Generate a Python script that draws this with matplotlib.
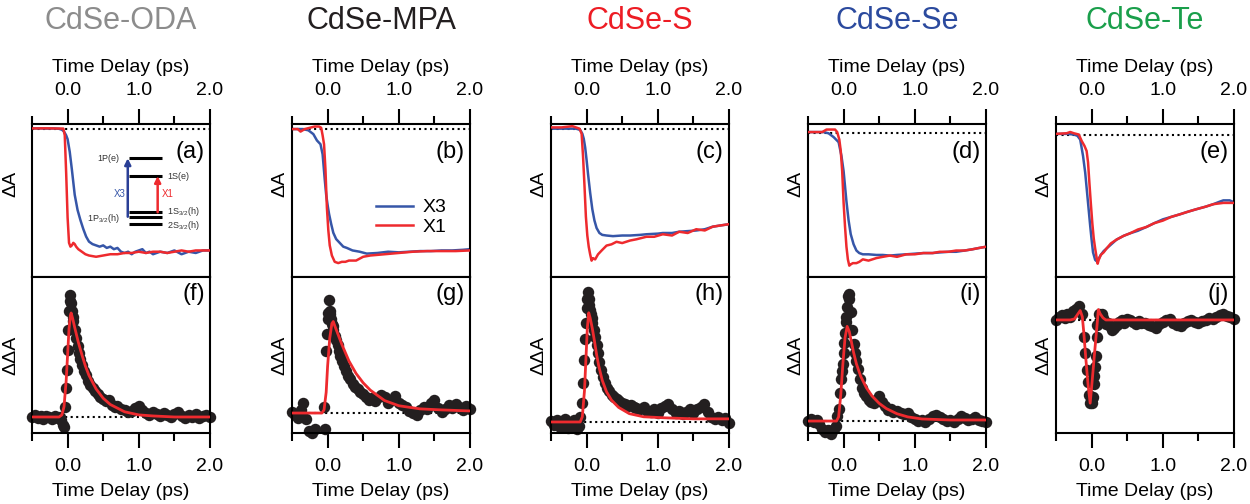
import numpy as np
import matplotlib.pyplot as plt

plt.rcParams['font.family'] = ['Liberation Sans', 'DejaVu Sans']
plt.rcParams['mathtext.fontset'] = 'custom'
plt.rcParams['mathtext.rm'] = 'Liberation Sans'
plt.rcParams['mathtext.default'] = 'rm'

BLUE = '#3656a8'
RED = '#ee2a2e'
DOT = '#231f20'

titles = ['CdSe-ODA', 'CdSe-MPA', 'CdSe-S', 'CdSe-Se', 'CdSe-Te']
title_colors = ['#8c8c8c', '#231f20', '#ed1c24', '#2b4a9e', '#1a9f4b']
top_letters = ['(a)', '(b)', '(c)', '(d)', '(e)']
bot_letters = ['(f)', '(g)', '(h)', '(i)', '(j)']

# --- top row: normalised bleach kinetics, X3 (blue) and X1 (red) ---
a_x3_t = [-0.5, -0.4, -0.3, -0.2, -0.12, -0.08, -0.05, -0.02, 0.0, 0.03, 0.06, 0.1,
          0.14, 0.18, 0.22, 0.26, 0.3, 0.35, 0.4, 0.45, 0.5, 0.55, 0.6, 0.65, 0.7,
          0.75, 0.8, 0.85, 0.9, 0.95, 1.0, 1.05, 1.1, 1.15, 1.2, 1.3, 1.4, 1.5, 1.6,
          1.7, 1.8, 1.9, 2.0]
a_x3 = [0.005, 0.006, 0.004, 0.005, 0.002, -0.005, -0.02, -0.05, -0.08, -0.18, -0.32,
        -0.52, -0.64, -0.72, -0.79, -0.85, -0.89, -0.91, -0.92, -0.93, -0.92, -0.94,
        -0.93, -0.95, -0.94, -0.97, -0.98, -0.97, -0.99, -0.97, -0.96, -0.95, -0.98,
        -0.97, -0.99, -0.97, -0.98, -0.96, -0.99, -0.97, -0.98, -0.96, -0.96]
a_x1_t = [-0.5, -0.3, -0.1, -0.06, -0.04, -0.02, 0.0, 0.02, 0.04, 0.06, 0.08, 0.1, 0.12,
          0.15, 0.2, 0.25, 0.3, 0.4, 0.5, 0.6, 0.7, 0.8, 0.9, 1.0, 1.1, 1.2, 1.3, 1.4,
          1.5, 1.6, 1.7, 1.8, 1.9, 2.0]
a_x1 = [0.005, 0.006, 0.004, 0.004, -0.05, -0.35, -0.7, -0.9, -0.93, -0.92, -0.90,
        -0.91, -0.93, -0.95, -0.97, -0.99, -1.0, -1.01, -1.0, -0.99, -0.99, -0.98,
        -0.98, -0.97, -0.98, -0.97, -0.97, -0.98, -0.97, -0.96, -0.97, -0.96, -0.96,
        -0.96]

b_x3_t = [-0.5, -0.35, -0.27, -0.2, -0.15, -0.1, -0.07, -0.04, -0.02, 0.0, 0.02, 0.05,
          0.08, 0.12, 0.17, 0.22, 0.27, 0.35, 0.45, 0.55, 0.7, 0.85, 1.0, 1.15, 1.3,
          1.45, 1.6, 1.75, 1.9, 2.0]
b_x3 = [0.0, 0.0, -0.01, -0.04, -0.09, -0.12, -0.2, -0.4, -0.52, -0.6, -0.67, -0.75,
        -0.82, -0.87, -0.90, -0.93, -0.94, -0.96, -0.97, -0.985, -0.98, -0.97, -0.975,
        -0.97, -0.965, -0.965, -0.96, -0.96, -0.955, -0.95]
b_x1_t = [-0.5, -0.42, -0.38, -0.32, -0.25, -0.18, -0.12, -0.09, -0.07, -0.05, -0.03,
          -0.01, 0.01, 0.03, 0.06, 0.1, 0.15, 0.2, 0.25, 0.3, 0.4, 0.5, 0.6, 0.8, 1.0,
          1.2, 1.4, 1.6, 1.8, 2.0]
b_x1 = [0.0, 0.0, -0.02, 0.0, 0.01, 0.02, 0.02, 0.01, -0.05, -0.12, -0.32, -0.62, -0.8,
        -0.92, -1.0, -1.05, -1.06, -1.05, -1.05, -1.04, -1.04, -1.01, -1.0, -0.99,
        -0.98, -0.97, -0.965, -0.965, -0.965, -0.96]

c_x3_t = [-0.5, -0.3, -0.15, -0.09, -0.06, -0.04, -0.02, 0.0, 0.02, 0.05, 0.08, 0.11,
          0.14, 0.18, 0.22, 0.28, 0.37, 0.5, 0.61, 0.75, 0.84, 1.0, 1.07, 1.2, 1.3,
          1.42, 1.54, 1.66, 1.77, 1.88, 2.0]
c_x3 = [0.0, 0.0, 0.0, -0.01, -0.04, -0.08, -0.15, -0.25, -0.36, -0.51, -0.64, -0.73,
        -0.79, -0.83, -0.845, -0.85, -0.855, -0.85, -0.85, -0.845, -0.84, -0.835,
        -0.83, -0.83, -0.82, -0.815, -0.81, -0.80, -0.78, -0.77, -0.76]
c_x1_t = [-0.5, -0.35, -0.2, -0.1, -0.07, -0.05, -0.03, -0.01, 0.01, 0.03, 0.05, 0.07,
          0.09, 0.12, 0.16, 0.21, 0.28, 0.35, 0.42, 0.5, 0.61, 0.7, 0.84, 0.95, 1.07,
          1.2, 1.3, 1.42, 1.54, 1.66, 1.77, 1.88, 2.0]
c_x1 = [0.01, 0.01, 0.02, 0.0, -0.04, -0.22, -0.45, -0.7, -0.85, -0.94, -1.0, -1.05,
        -1.03, -1.04, -1.0, -0.97, -0.93, -0.92, -0.9, -0.91, -0.89, -0.88, -0.86,
        -0.86, -0.84, -0.85, -0.82, -0.83, -0.80, -0.81, -0.78, -0.77, -0.76]

d_x3_t = [-0.5, -0.35, -0.28, -0.21, -0.14, -0.07, -0.03, 0.0, 0.02, 0.04, 0.07, 0.1,
          0.14, 0.18, 0.22, 0.27, 0.35, 0.46, 0.55, 0.65, 0.75, 0.88, 1.0, 1.12, 1.25,
          1.35, 1.47, 1.58, 1.7, 1.81, 1.9, 2.0]
d_x3 = [0.01, 0.01, 0.01, 0.0, -0.03, -0.07, -0.18, -0.3, -0.42, -0.54, -0.69, -0.8,
        -0.88, -0.93, -0.95, -0.96, -0.96, -0.965, -0.965, -0.97, -0.965, -0.96,
        -0.955, -0.95, -0.95, -0.945, -0.94, -0.94, -0.93, -0.92, -0.91, -0.9]
d_x1_t = [-0.5, -0.3, -0.24, -0.18, -0.12, -0.09, -0.06, -0.04, -0.02, 0.0, 0.02, 0.04,
          0.06, 0.08, 0.1, 0.13, 0.18, 0.22, 0.27, 0.35, 0.46, 0.55, 0.65, 0.75, 0.88,
          1.0, 1.12, 1.25, 1.35, 1.47, 1.58, 1.7, 1.81, 1.9, 2.0]
d_x1 = [0.01, 0.01, 0.03, 0.03, 0.03, 0.01, -0.05, -0.14, -0.3, -0.55, -0.74, -0.9,
        -1.0, -1.05, -1.04, -1.03, -1.03, -1.02, -1.0, -1.01, -0.99, -0.98, -0.97,
        -0.98, -0.96, -0.96, -0.95, -0.95, -0.94, -0.94, -0.93, -0.93, -0.92, -0.91,
        -0.9]

e_x3_t = [-0.5, -0.35, -0.25, -0.2, -0.16, -0.12, -0.09, -0.07, -0.04, -0.02, 0.0, 0.02,
          0.05, 0.07, 0.1, 0.13, 0.17, 0.21, 0.27, 0.35, 0.45, 0.54, 0.65, 0.77, 0.88,
          1.0, 1.12, 1.24, 1.35, 1.47, 1.6, 1.71, 1.8, 1.85, 1.94, 2.0]
e_x3 = [0.005, 0.005, 0.0, -0.01, -0.04, -0.17, -0.3, -0.42, -0.6, -0.72, -0.83, -0.93,
        -0.99, -1.0, -0.98, -0.95, -0.92, -0.9, -0.87, -0.83, -0.8, -0.78, -0.76,
        -0.73, -0.7, -0.67, -0.65, -0.63, -0.61, -0.59, -0.57, -0.55, -0.53, -0.52,
        -0.52, -0.535]
e_x1_t = [-0.5, -0.35, -0.3, -0.25, -0.18, -0.14, -0.1, -0.07, -0.05, -0.03, -0.01, 0.01,
          0.03, 0.05, 0.07, 0.085, 0.1, 0.13, 0.17, 0.21, 0.27, 0.35, 0.45, 0.54, 0.65,
          0.77, 0.88, 1.0, 1.12, 1.24, 1.35, 1.47, 1.6, 1.71, 1.85, 2.0]
e_x1 = [0.005, 0.01, 0.02, 0.01, 0.0, -0.05, -0.09, -0.13, -0.22, -0.39, -0.55, -0.7,
        -0.82, -0.9, -0.97, -1.02, -0.99, -0.95, -0.93, -0.9, -0.86, -0.83, -0.8, -0.78,
        -0.75, -0.73, -0.7, -0.68, -0.65, -0.63, -0.61, -0.59, -0.57, -0.55, -0.54,
        -0.54]

# --- bottom row: delta-delta-A points on a shared delay grid, plus fits ---
dd_t = [-0.50, -0.46, -0.42, -0.38, -0.34, -0.30, -0.26, -0.22, -0.18, -0.14,
        -0.11, -0.09, -0.07, -0.05, -0.03,
        -0.02, -0.01, 0.00, 0.01, 0.02, 0.03, 0.04, 0.05, 0.06, 0.07, 0.08,
        0.10, 0.12, 0.14, 0.16, 0.18, 0.20,
        0.23, 0.26, 0.29, 0.32, 0.35, 0.38,
        0.42, 0.46, 0.50, 0.54, 0.58, 0.62, 0.66, 0.70,
        0.75, 0.80, 0.85, 0.90, 0.95, 1.00, 1.05, 1.10, 1.15, 1.20, 1.25, 1.30, 1.35,
        1.40, 1.45, 1.50, 1.55, 1.60, 1.65, 1.70, 1.75, 1.80, 1.85, 1.90, 1.95, 2.00]

f_pts = [0.00, 0.02, -0.01, 0.01, -0.02, 0.01, 0.00, -0.02, 0.01, -0.01,
         0.00, -0.03, -0.08, -0.10, 0.10,
         0.28, 0.45, 0.64, 0.84, 1.02, 1.12, 1.17, 1.10, 1.02, 0.96, 0.92,
         0.84, 0.76, 0.68, 0.62, 0.56, 0.50,
         0.44, 0.40, 0.35, 0.31, 0.28, 0.25,
         0.22, 0.19, 0.17, 0.15, 0.16, 0.12, 0.10, 0.11,
         0.08, 0.07, 0.05, 0.06, 0.09, 0.11, 0.07, 0.04, 0.02, 0.05, 0.03, 0.01, 0.04,
         0.02, 0.00, 0.03, 0.05, 0.01, -0.01, 0.02, 0.00, 0.03, -0.01, 0.01, 0.02, 0.00]
g_pts = [0.01, -0.02, -0.05, 0.03, 0.10, -0.06, -0.17, -0.19, -0.15, np.nan,
         np.nan, np.nan, np.nan, 0.06, -0.15,
         0.60, 0.76, 0.90, 0.96, 1.09, 0.98, 0.95, 0.90, 0.86, 0.84, 0.80,
         0.74, 0.70, 0.65, 0.60, 0.55, 0.50,
         0.45, 0.40, 0.36, 0.33, 0.28, 0.25,
         0.23, 0.20, 0.18, 0.15, 0.13, 0.14, 0.12, 0.14,
         0.17, 0.15, 0.10, 0.13, 0.16, 0.10, 0.08, 0.06, 0.02, 0.00, -0.02, 0.03, 0.06,
         0.04, 0.10, 0.13, 0.05, 0.01, 0.04, 0.08, 0.05, 0.09, 0.06, 0.03, 0.07, 0.04]
h_pts = [0.01, -0.03, 0.02, -0.05, 0.00, 0.03, -0.06, -0.02, 0.02, -0.07,
         -0.04, 0.05, 0.18, 0.37, 0.60,
         0.80, 0.95, 1.10, 1.18, 1.25, 1.18, 1.12, 1.08, 1.04, 1.00, 0.95,
         0.88, 0.82, 0.74, 0.66, 0.58, 0.50,
         0.43, 0.37, 0.33, 0.30, 0.26, 0.24,
         0.22, 0.20, 0.18, 0.17, 0.15, 0.16, 0.14, 0.13,
         0.12, 0.14, 0.11, 0.10, 0.12, 0.09, 0.13, 0.15, 0.17, 0.12, 0.09, 0.11, 0.08,
         0.10, 0.12, 0.09, 0.12, 0.14, 0.17, 0.10, 0.05, 0.03, 0.05, 0.02, 0.04, -0.01]
i_pts = [0.00, 0.02, -0.01, 0.01, -0.03, -0.08, -0.11, -0.09, -0.12, -0.08,
         -0.05, 0.05, 0.12, 0.27, 0.40,
         0.48, 0.55, 0.65, 0.75, 0.85, 0.95, 1.00, 1.10, 1.20, 1.22, 1.17,
         1.05, 0.88, 0.74, 0.65, 0.58, 0.50,
         0.40, 0.32, 0.27, 0.24, 0.20, 0.18,
         0.17, 0.20, 0.24, 0.18, 0.14, 0.11, 0.12, 0.09,
         0.10, 0.08, 0.07, 0.08, 0.04, 0.02, 0.00, 0.01, -0.01, 0.02, 0.05, 0.06, 0.04,
         0.02, 0.00, 0.01, -0.01, 0.02, 0.05, 0.03, 0.01, 0.02, 0.04, 0.01, 0.00, -0.01]
j_pts = [0.00, 0.03, 0.05, 0.02, 0.06, 0.03, 0.09, 0.11, 0.13, 0.06,
         -0.16, -0.32, -0.48, -0.60, -0.72,
         -0.80, -0.78, -0.80, -0.76, -0.74, -0.62, -0.54, -0.45, -0.35, -0.16, -0.05,
         0.06, 0.05, 0.06, 0.02, -0.02, -0.04,
         -0.03, -0.06, -0.10, -0.08, -0.05, -0.02,
         0.00, -0.03, 0.01, 0.00, -0.02, -0.04, -0.01, -0.03,
         -0.03, -0.05, -0.06, -0.08, -0.04, -0.02, 0.00, 0.01, -0.03, -0.05, -0.06, -0.03,
         -0.01, 0.00, -0.02, -0.03, -0.01, 0.00, 0.02, 0.01, 0.03, 0.05, 0.06, 0.04,
         0.03, 0.01]

f_fit_t = [-0.5, -0.12, -0.08, -0.05, -0.02, 0.0, 0.02, 0.04, 0.05, 0.07, 0.1, 0.15,
           0.2, 0.25, 0.3, 0.4, 0.5, 0.6, 0.8, 1.0, 1.2, 1.5, 2.0]
f_fit = [0.0, 0.0, 0.02, 0.1, 0.35, 0.6, 0.85, 0.98, 1.0, 0.95, 0.86, 0.72, 0.6, 0.49,
         0.4, 0.27, 0.18, 0.12, 0.05, 0.02, 0.01, 0.0, 0.0]
g_fit_t = [-0.5, -0.08, -0.05, -0.02, 0.0, 0.03, 0.06, 0.08, 0.1, 0.15, 0.2, 0.3, 0.4,
           0.5, 0.6, 0.8, 1.0, 1.3, 1.6, 2.0]
g_fit = [0.0, 0.0, 0.03, 0.2, 0.45, 0.72, 0.86, 0.88, 0.84, 0.75, 0.66, 0.5, 0.38,
         0.29, 0.22, 0.12, 0.07, 0.04, 0.03, 0.02]
h_fit_t = [-0.5, -0.09, -0.06, -0.03, -0.01, 0.01, 0.03, 0.05, 0.08, 0.11, 0.14, 0.17,
           0.22, 0.28, 0.35, 0.45, 0.6, 0.8, 1.1, 1.5, 2.0]
h_fit = [0.0, 0.0, 0.05, 0.3, 0.6, 0.9, 1.05, 1.0, 0.9, 0.78, 0.65, 0.54, 0.40, 0.29,
         0.21, 0.14, 0.08, 0.05, 0.04, 0.03, 0.03]
i_fit_t = [-0.5, -0.1, -0.07, -0.04, -0.01, 0.02, 0.05, 0.08, 0.11, 0.14, 0.18, 0.24,
           0.32, 0.4, 0.5, 0.6, 0.75, 0.9, 1.1, 1.5, 2.0]
i_fit = [0.0, 0.0, 0.04, 0.25, 0.55, 0.8, 0.91, 0.86, 0.76, 0.66, 0.55, 0.43, 0.32,
         0.24, 0.17, 0.12, 0.07, 0.04, 0.02, 0.01, 0.01]
j_fit_t = [-0.5, -0.3, -0.24, -0.2, -0.16, -0.13, -0.11, -0.08, -0.05, -0.02, 0.01,
           0.04, 0.07, 0.095, 0.12, 0.16, 0.2, 0.3, 2.0]
j_fit = [0.0, 0.0, 0.01, 0.05, 0.09, 0.03, -0.12, -0.38, -0.62, -0.80, -0.57, -0.33,
         -0.1, 0.1, 0.06, 0.02, 0.0, 0.0, 0.0]

x3_t = [a_x3_t, b_x3_t, c_x3_t, d_x3_t, e_x3_t]
x3_y = [a_x3, b_x3, c_x3, d_x3, e_x3]
x1_t = [a_x1_t, b_x1_t, c_x1_t, d_x1_t, e_x1_t]
x1_y = [a_x1, b_x1, c_x1, d_x1, e_x1]
dd_pts = [f_pts, g_pts, h_pts, i_pts, j_pts]
fit_t = [f_fit_t, g_fit_t, h_fit_t, i_fit_t, j_fit_t]
fit_y = [f_fit, g_fit, h_fit, i_fit, j_fit]

top_ylim = [(-1.17, 0.04), (-1.17, 0.04), (-1.18, 0.037), (-1.14, 0.074), (-1.125, 0.083)]
bot_ylim = [(-0.154, 1.346), (-0.192, 1.308), (-0.106, 1.394), (-0.115, 1.385), (-1.087, 0.413)]

# layout in pixels
W, H = 1250, 504
lefts = [32, 292, 551, 808, 1056]
pw = 178
y_top, y_mid, y_bot = 124, 277, 433
ylab_x = [-0.07, -0.02, -0.02, -0.02, -0.02]

fig = plt.figure(figsize=(12.5, 5.04), dpi=100)


def style(ax, where):
    ax.set_xlim(-0.5, 2.0)
    ax.set_xticks([0, 1, 2])
    ax.set_xticklabels(['0.0', '1.0', '2.0'])
    ax.set_xticks([-0.5, 0.5, 1.5], minor=True)
    ax.set_yticks([])
    for sp in ax.spines.values():
        sp.set_linewidth(1.5)
    ax.tick_params(axis='x', which='both', direction='out', width=1.5, labelsize=14,
                   pad=7, top=(where == 'top'), bottom=(where == 'bottom'),
                   labeltop=(where == 'top'), labelbottom=(where == 'bottom'))
    ax.tick_params(axis='x', which='major', length=11)
    ax.tick_params(axis='x', which='minor', length=6)
    ax.xaxis.set_label_position(where)
    ax.set_xlabel('Time Delay (ps)', fontsize=14, labelpad=7 if where == 'top' else 6)


for k in range(5):
    l = lefts[k] / W
    w = pw / W
    ax1 = fig.add_axes([l, 1 - y_mid / H, w, (y_mid - y_top) / H])
    ax2 = fig.add_axes([l, 1 - y_bot / H, w, (y_bot - y_mid) / H])

    ax1.axhline(0, color='black', ls=':', lw=1.5, zorder=1)
    ax1.plot(x3_t[k], x3_y[k], color=BLUE, lw=1.8, label='X3', zorder=2)
    ax1.plot(x1_t[k], x1_y[k], color=RED, lw=1.8, label='X1', zorder=3)
    ax1.set_ylim(*top_ylim[k])
    style(ax1, 'top')
    ax1.set_ylabel('\u0394A', fontsize=14)
    ax1.yaxis.set_label_coords(ylab_x[k], 0.61)
    ax1.text(0.97, 0.82, top_letters[k], transform=ax1.transAxes, ha='right',
             va='center', fontsize=17)

    ax2.axhline(0, color='black', ls=':', lw=1.5, zorder=1)
    ax2.scatter(dd_t, dd_pts[k], s=68, color=DOT, lw=0, zorder=2, clip_on=False)
    ax2.plot(fit_t[k], fit_y[k], color=RED, lw=2, zorder=3)
    ax2.set_ylim(*bot_ylim[k])
    style(ax2, 'bottom')
    ax2.set_ylabel('\u0394\u0394A', fontsize=14)
    ax2.yaxis.set_label_coords(ylab_x[k], 0.5)
    ax2.text(0.97, 0.89, bot_letters[k], transform=ax2.transAxes, ha='right',
             va='center', fontsize=17)

    fig.text((lefts[k] + pw / 2) / W, 1 - 21 / H, titles[k], color=title_colors[k],
             ha='center', va='center', fontsize=22)

    if k == 0:
        # energy level sketch
        tr = ax1.transAxes
        for yl in [0.776, 0.660, 0.423, 0.394, 0.346]:
            ax1.plot([0.547, 0.732], [yl, yl], color='black', lw=2.2, transform=tr,
                     solid_capstyle='butt')
        ax1.annotate('', xy=(0.538, 0.776), xytext=(0.538, 0.394), xycoords=tr,
                     arrowprops=dict(arrowstyle='-|>', color='#2a3f96', lw=1.8,
                                     mutation_scale=9, shrinkA=0, shrinkB=0))
        ax1.annotate('', xy=(0.706, 0.660), xytext=(0.706, 0.423), xycoords=tr,
                     arrowprops=dict(arrowstyle='-|>', color=RED, lw=1.8,
                                     mutation_scale=9, shrinkA=0, shrinkB=0))
        small = dict(transform=tr, fontsize=6.5, color='#333333', va='center')
        ax1.text(0.49, 0.776, '1P(e)', ha='right', **small)
        ax1.text(0.76, 0.660, '1S(e)', ha='left', **small)
        ax1.text(0.49, 0.385, '1P$_{3/2}$(h)', ha='right', **small)
        ax1.text(0.76, 0.43, '1S$_{3/2}$(h)', ha='left', **small)
        ax1.text(0.76, 0.335, '2S$_{3/2}$(h)', ha='left', **small)
        ax1.text(0.525, 0.54, 'X3', ha='right', va='center', transform=tr,
                 fontsize=7, color=BLUE)
        ax1.text(0.73, 0.54, 'X1', ha='left', va='center', transform=tr,
                 fontsize=7, color=RED)
    if k == 1:
        ax1.legend(loc='center left', bbox_to_anchor=(0.47, 0.39), frameon=False,
                   fontsize=14, handlelength=1.9, handletextpad=0.5,
                   labelspacing=0.1, borderpad=0, borderaxespad=0)

fig.savefig('out.png', dpi=100)
